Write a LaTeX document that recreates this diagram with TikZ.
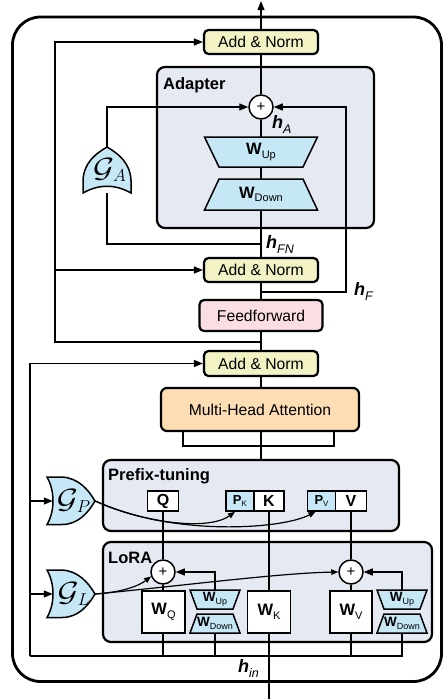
\documentclass[tikz,border=0pt]{standalone}
\usepackage{fontspec}
\setmainfont{Liberation Sans}
\usetikzlibrary{arrows.meta}
\definecolor{yellowbox}{RGB}{242,242,196}
\definecolor{pinkbox}{RGB}{251,222,226}
\definecolor{orangebox}{RGB}{252,221,180}
\definecolor{graybox}{RGB}{229,233,242}
\definecolor{bluefill}{RGB}{198,231,246}
\newcommand\trapz[5]{\filldraw[trap] ({#1-#4},#2) -- ({#1+#4},#2) -- ({#1+#5},#3) -- ({#1-#5},#3) -- cycle;}
\newcommand\gateR[1]{\filldraw[gate] (47,{#1-24}) -- (62,{#1-24}) .. controls (78,{#1-23}) and (88,{#1-12}) .. (95,#1) .. controls (88,{#1+12}) and (78,{#1+23.5}) .. (62,{#1+23.5}) -- (47,{#1+23.5}) .. controls (55,{#1+10}) and (55,{#1-10}) .. (47,{#1-24}) -- cycle;}
\newcommand\wl[4]{{\fontsize{#1}{#1}\selectfont\bfseries W}\raisebox{-#3}{\fontsize{#2}{#2}\selectfont #4}}
\newcommand\pl[1]{{\fontsize{13}{13}\selectfont\bfseries P}\raisebox{-2pt}{\fontsize{8}{8}\selectfont #1}}
\newcommand\hlab[1]{{\fontsize{18}{18}\selectfont\bfseries\itshape h}\raisebox{-5pt}{\fontsize{12.5}{12.5}\selectfont\itshape #1}}
\newcommand\gsym[1]{{\fontsize{24.88}{28}\selectfont\scalebox{1.3}[1.12]{$\mathcal{G}$}}\kern-1pt\raisebox{-3.5pt}{\fontsize{17.28}{18}\selectfont$#1$}}
\tikzset{
  conn/.style={line width=1.2pt},
  arr/.style={conn,-{Triangle[length=9pt,width=7pt]}},
  sarr/.style={conn,-{Triangle[length=7pt,width=5.5pt]}},
  blk/.style={draw,line width=2.2pt,rounded corners=4.5pt,inner sep=0pt,font=\fontsize{15.7}{18}\selectfont},
  anorm/.style={blk,fill=yellowbox,minimum width=114pt,minimum height=24pt},
  container/.style={draw,line width=2.2pt,rounded corners=8pt,fill=graybox,inner sep=0pt},
  title/.style={inner sep=0pt,font=\fontsize{16.5}{18}\selectfont\bfseries},
  wbox/.style={draw,line width=1.6pt,fill=white,inner sep=0pt},
  pbox/.style={wbox,fill=bluefill},
  plus/.style={circle,draw,line width=1.5pt,fill=white,minimum size=24pt,inner sep=0pt,font=\fontsize{15}{15}\selectfont},
  trap/.style={draw,line width=1.5pt,fill=bluefill,line join=miter},
  gate/.style={draw,line width=1.5pt,fill=bluefill},
  tlab/.style={inner sep=0pt},
}
\begin{document}
\begin{tikzpicture}[x=1pt,y=-1pt]
\useasboundingbox (0,0) rectangle (443,699);
% outer frame
\draw[line width=2.8pt,rounded corners=28pt] (12.5,17) rectangle (441.5,681.5);
% containers
\node[container,minimum width=217pt,minimum height=161pt] (adapter) at (265.5,147.5) {};
\node[container,minimum width=296pt,minimum height=71pt] (prefix) at (251,495.5) {};
\node[container,minimum width=329pt,minimum height=100pt] (lora) at (267.5,592) {};
\node[title,anchor=base west] (adaptert) at (163,89) {Adapter};
\node[title,anchor=base west] (prefixt) at (108,480) {Prefix-tuning};
\node[title,anchor=base west] (lorat) at (108,563) {LoRA};
% main blocks
\node[anorm] (an1) at (261,42) {Add \& Norm};
\node[anorm] (an2) at (261,270) {Add \& Norm};
\node[blk,fill=pinkbox,minimum width=123pt,minimum height=31pt] (ff) at (261,315.5) {Feedforward};
\node[anorm,minimum height=25pt] (an3) at (261,363.5) {Add \& Norm};
\node[blk,fill=orangebox,minimum width=198pt,minimum height=43pt,rounded corners=6pt] (mha) at (260,409.5) {Multi-Head Attention};
% adapter internals
\node[plus] (plusA) at (261,107) {+};
\trapz{261}{137}{167}{56.5}{42}
\node[tlab,minimum width=84pt,minimum height=30pt] (wupA) at (261,152) {\wl{16.5}{11}{3.5pt}{Up}};
\trapz{261}{179}{210}{42}{56.5}
\node[tlab,minimum width=84pt,minimum height=31pt] (wdnA) at (261,194.5) {\wl{16.5}{11}{3.5pt}{Down}};
\filldraw[gate] (83,193) -- (83,180) .. controls (84,163) and (95,154) .. (107,147) .. controls (119,154) and (130,163) .. (131,180) -- (131,193) .. controls (115,184) and (99,184) .. (83,193) -- cycle;
\node[tlab,minimum width=48pt,minimum height=46pt] (ga) at (107,170) {\hspace*{5pt}\gsym{A}};
% prefix internals
\node[wbox,minimum width=31pt,minimum height=20pt,font=\fontsize{16}{16}\selectfont\bfseries] (q) at (163,501) {Q};
\node[pbox,minimum width=28pt,minimum height=20pt] (pk) at (240,501) {\pl{K}};
\node[wbox,minimum width=30pt,minimum height=20pt,font=\fontsize{16}{16}\selectfont\bfseries] (k) at (269,501) {K};
\node[pbox,minimum width=28pt,minimum height=20pt] (pv) at (321.5,501) {\pl{V}};
\node[wbox,minimum width=31pt,minimum height=20pt,font=\fontsize{16}{16}\selectfont\bfseries] (v) at (351,501) {V};
\gateR{501}
\node[tlab,minimum width=48pt,minimum height=47pt] (gp) at (71,501) {\hspace*{5pt}\gsym{P}};
% lora internals
\node[plus] (plus1) at (163,572) {+};
\node[plus] (plus2) at (351,572) {+};
\node[wbox,minimum width=43pt,minimum height=42pt] (wq) at (163.5,612) {\wl{16.5}{11}{3.5pt}{Q}};
\node[wbox,minimum width=43pt,minimum height=42pt] (wk) at (269,612) {\wl{16.5}{11}{3.5pt}{K}};
\node[wbox,minimum width=42pt,minimum height=42pt] (wv) at (351,612) {\wl{16.5}{11}{3.5pt}{V}};
\trapz{215}{590}{609}{25}{18}
\node[tlab,minimum width=36pt,minimum height=19pt] (wup1) at (215,599.5) {\wl{13.5}{9}{2.5pt}{Up}};
\trapz{215}{614}{633}{18}{25}
\node[tlab,minimum width=36pt,minimum height=19pt] (wdn1) at (215,623.5) {\wl{13.5}{9}{2.5pt}{Down}};
\trapz{402}{590}{609}{25}{18}
\node[tlab,minimum width=36pt,minimum height=19pt] (wup2) at (402,599.5) {\wl{13.5}{9}{2.5pt}{Up}};
\trapz{402}{614}{633}{18}{25}
\node[tlab,minimum width=36pt,minimum height=19pt] (wdn2) at (402,623.5) {\wl{13.5}{9}{2.5pt}{Down}};
\gateR{594}
\node[tlab,minimum width=48pt,minimum height=47pt] (gl) at (71,594) {\hspace*{5pt}\gsym{L}};
% labels
\node[tlab,anchor=base west] (hA) at (272,128) {\hlab{A}};
\node[tlab,anchor=base west] (hFN) at (266,248) {\hlab{FN}};
\node[tlab,anchor=base west] (hF) at (354,295) {\hlab{F}};
\node[tlab,anchor=base west] (hin) at (238,672) {\hlab{in}};
% coordinates
\coordinate (out) at (261,1);
\coordinate (jfn) at (261,244);
\coordinate (jf) at (261,292);
\coordinate (jfr) at (346,292);
\coordinate (jres) at (261,342);
\coordinate (jresl) at (55,342);
\coordinate (bl) at (183,446);
\coordinate (br) at (334,446);
\coordinate (bot) at (30,656);
\coordinate (hinb) at (269,699);
% connectors
\draw[arr] (an1.north) -- (out);
\draw[conn] (an1.south) -- (plusA.north);
\draw[conn] (plusA.south) -- (wupA.north);
\draw[conn] (wupA.south) -- (wdnA.north);
\draw[conn] (wdnA.south) -- (an2.north);
\draw[conn] (jfn) -| (ga.south);
\draw[arr] (ga.north) |- (plusA.west);
\draw[conn] (an2.south) -- (ff.north);
\draw[arr] (jf) -- (jfr) |- (plusA.east);
\draw[conn] (ff.south) -- (an3.north);
\draw[arr] (jres) -- (jresl) |- (an1.west);
\draw[arr] (jresl |- an2.west) -- (an2.west);
\draw[conn] (an3.south) -- (an3.south |- mha.north);
\draw[conn] (an3.south |- mha.south) -- (an3.south |- prefix.north);
\draw[conn] (bl |- mha.south) -- (bl) -- (br) -- (br |- mha.south);
\draw[conn] (q.south) -- (plus1.north);
\draw[conn] (plus1.south) -- (plus1.south |- wq.north);
\draw[conn] (k.south) -- (k.south |- wk.north);
\draw[conn] (wk.south) -- (hinb);
\draw[conn] (v.south) -- (plus2.north);
\draw[conn] (plus2.south) -- (plus2.south |- wv.north);
\draw[arr] (wup1.north) |- (plus1.east);
\draw[arr] (wup2.north) |- (plus2.east);
\draw[conn] (plus1.south |- wq.south) -- (plus1.south |- bot);
\draw[conn] (wdn1.south) -- (wdn1.south |- bot);
\draw[conn] (wv.south) -- (wv.south |- bot);
\draw[conn] (wdn2.south) -- (wdn2.south |- bot) -- (bot);
\draw[arr] (bot) |- (an3.west);
\draw[arr] (bot |- gp.west) -- ([xshift=6pt]gp.west);
\draw[arr] (bot |- gl.west) -- ([xshift=6pt]gl.west);
\draw[sarr] (gp.east) .. controls (150,525) and (210,530) .. ([xshift=-5pt]pk.south);
\draw[sarr] (gp.east) .. controls (170,536) and (280,530) .. ([xshift=-6pt]pv.south);
\draw[sarr] (gl.east) .. controls (125,592) and (140,585) .. (plus1.200);
\draw[sarr] (gl.east) .. controls (180,586) and (280,573) .. (plus2.west);
\end{tikzpicture}
\end{document}
